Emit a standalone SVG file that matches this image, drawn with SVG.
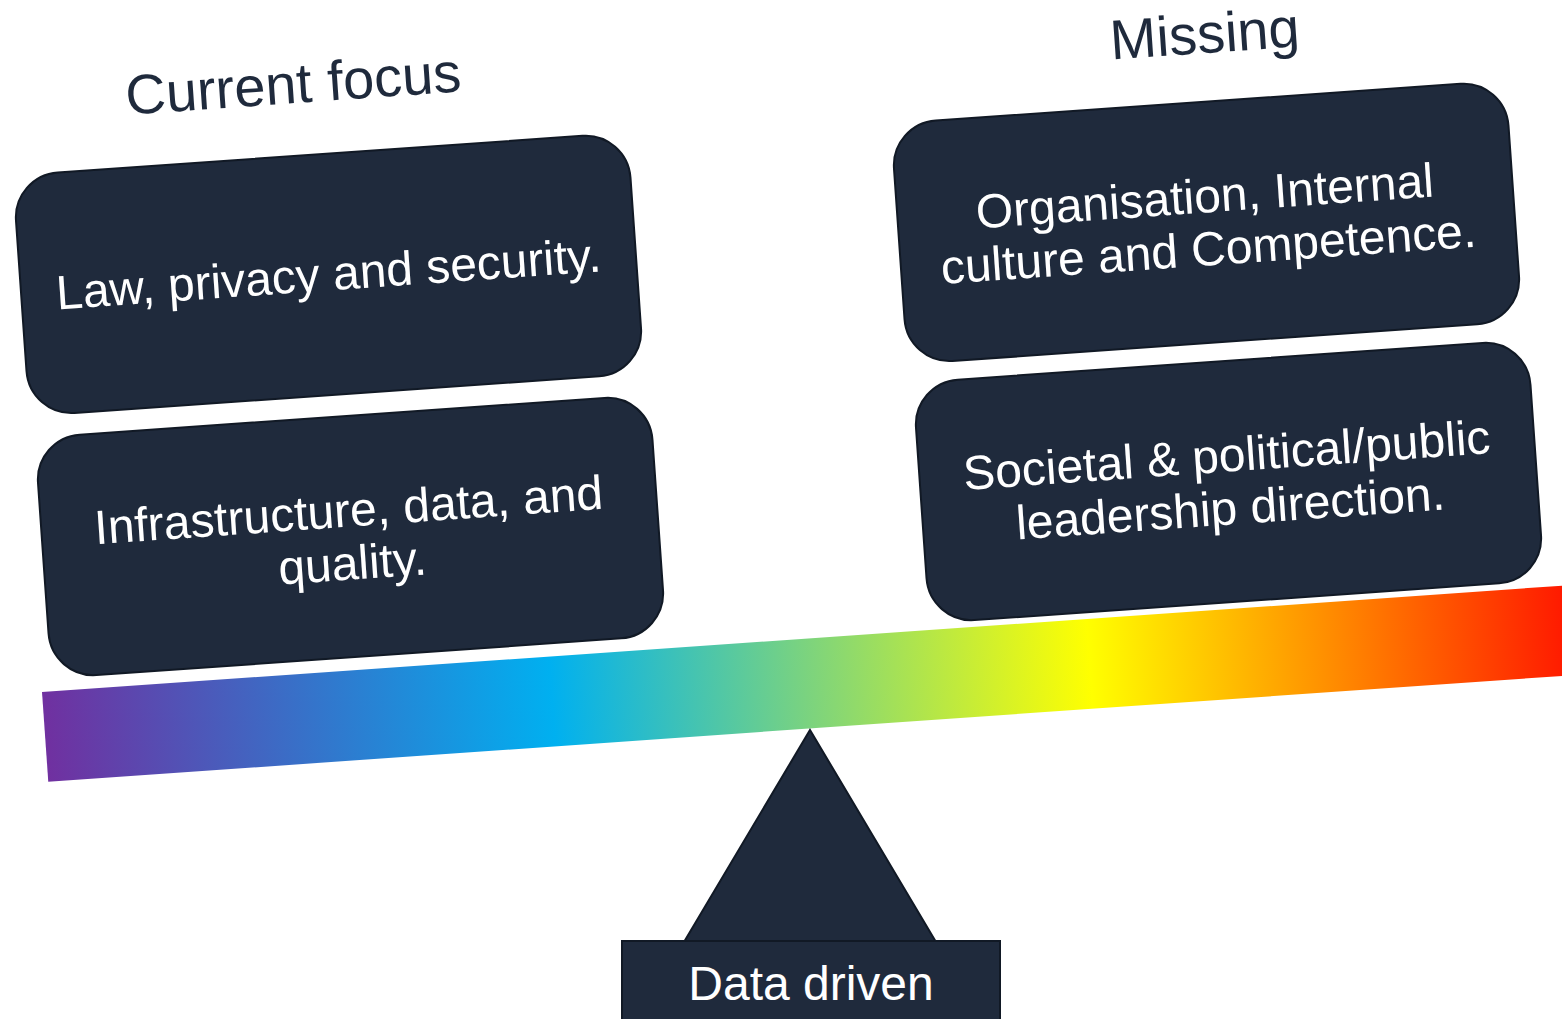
<svg xmlns="http://www.w3.org/2000/svg" width="1562" height="1019" viewBox="0 0 1562 1019">
  <defs>
    <linearGradient id="rainbow" x1="0" y1="0" x2="1" y2="0">
      <stop offset="0" stop-color="#7030A0"/>
      <stop offset="0.33" stop-color="#00B0F0"/>
      <stop offset="0.5" stop-color="#7ED47C"/>
      <stop offset="0.68" stop-color="#FFFF00"/>
      <stop offset="0.84" stop-color="#FF8A00"/>
      <stop offset="1" stop-color="#FF1200"/>
    </linearGradient>
    <style>
      .box { fill: #1F2A3C; stroke: #111925; stroke-width: 2; }
      .lbl { font-family: "Liberation Sans", Arial, sans-serif; font-size: 48px; fill: #FFFFFF; text-anchor: middle; }
      .title { font-family: "Liberation Sans", Arial, sans-serif; font-size: 56px; fill: #1F2A3C; text-anchor: middle; }
    </style>
  </defs>
  <rect width="1562" height="1019" fill="#FFFFFF"/>

  <g id="title-current">
    <text class="title" transform="translate(294.5,103) rotate(-4)">Current focus</text>
  </g>
  <g id="title-missing">
    <text class="title" transform="translate(1206,53) rotate(-4)">Missing</text>
  </g>

  <g id="beam">
    <rect x="0" y="0" width="1540" height="90" fill="url(#rainbow)" transform="translate(42,692) rotate(-4)"/>
  </g>

  <g id="box-law" transform="translate(328.5,274.4) rotate(-4)">
    <rect class="box" x="-308" y="-120.5" width="616" height="241" rx="45"/>
    <text class="lbl" x="0" y="16">Law, privacy and security.</text>
  </g>

  <g id="box-infra" transform="translate(350.5,536.5) rotate(-4)">
    <rect class="box" x="-308" y="-120.5" width="616" height="241" rx="45"/>
    <text class="lbl" x="0" y="-10">Infrastructure, data, and</text>
    <text class="lbl" x="0" y="43">quality.</text>
  </g>

  <g id="box-org" transform="translate(1206.5,222.4) rotate(-4)">
    <rect class="box" x="-308" y="-120.5" width="616" height="241" rx="45"/>
    <text class="lbl" x="0" y="-10">Organisation, Internal</text>
    <text class="lbl" x="0" y="43">culture and Competence.</text>
  </g>

  <g id="box-society" transform="translate(1228.5,481.5) rotate(-4)">
    <rect class="box" x="-308" y="-120.5" width="616" height="241" rx="45"/>
    <text class="lbl" x="0" y="-10">Societal &amp; political/public</text>
    <text class="lbl" x="0" y="43">leadership direction.</text>
  </g>

  <g id="fulcrum">
    <polygon class="box" points="810,730 936,942 684,942" stroke-width="1.5"/>
  </g>

  <g id="base-data-driven">
    <rect class="box" x="622" y="941" width="378" height="90" stroke-width="1.5"/>
    <text class="lbl" x="811" y="1000">Data driven</text>
  </g>

  <g id="connectors"></g>
</svg>
